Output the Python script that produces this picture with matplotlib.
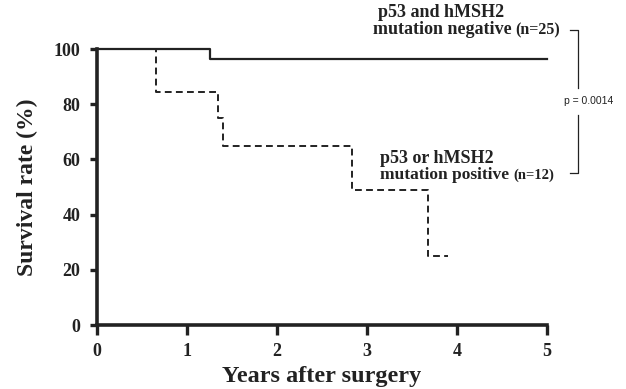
import matplotlib
matplotlib.use('Agg')
import matplotlib.pyplot as plt

# Kaplan-Meier curves
neg_years = [0, 1.26, 5.0]
neg_surv = [100, 96.5, 96.5]
pos_years = [0, 0.65, 1.34, 1.40, 2.83, 3.68, 3.90]
pos_surv = [100, 84.6, 75, 65, 49, 25, 25]

x_ticks = [0, 1, 2, 3, 4, 5]
y_ticks = [0, 20, 40, 60, 80, 100]
p_value = 'p = 0.0014'

serif = 'Liberation Serif'
plt.rcParams['font.family'] = serif

fig = plt.figure(figsize=(6.26, 3.89), dpi=100)
ax = fig.add_axes([97 / 626, 64 / 389, 450 / 626, 276 / 389])

ax.step(pos_years, pos_surv, where='post', color='#222222', lw=1.4,
        dashes=(3.5, 2.2), clip_on=False, zorder=2)
ax.step(neg_years, neg_surv, where='post', color='#222222', lw=1.6,
        clip_on=False, zorder=3)

ax.set_xlim(0, 5)
ax.set_ylim(0, 100)
for s in ['top', 'right']:
    ax.spines[s].set_visible(False)
for s in ['left', 'bottom']:
    ax.spines[s].set_linewidth(2.6)
    ax.spines[s].set_color('#222222')
ax.set_xticks(x_ticks)
ax.set_yticks(y_ticks)
ax.tick_params(axis='x', length=7, width=2.4, color='#222222', pad=6)
ax.tick_params(axis='y', length=5, width=2.4, color='#222222', pad=7)
for lab in ax.get_xticklabels() + ax.get_yticklabels():
    lab.set_fontweight('bold')
    lab.set_fontsize(13)
    lab.set_color('#222222')

ax.set_xlabel('Years after surgery', fontsize=17.5, fontweight='bold',
              color='#222222', labelpad=4)
ax.set_ylabel('Survival rate (%)', fontsize=17, fontweight='bold',
              color='#222222', labelpad=11)

kw = dict(fontweight='bold', color='#222222', clip_on=False, va='center')
ax.text(3.82, 113.4, 'p53 and hMSH2', fontsize=13, ha='center', **kw)
ax.text(4.61, 106.9, 'mutation negative', fontsize=13, ha='right', **kw)
ax.text(5.14, 106.9, '(n=25)', fontsize=11.5, ha='right', **kw)
ax.text(3.14, 60.5, 'p53 or hMSH2', fontsize=13, ha='left', **kw)
ax.text(3.14, 54.3, 'mutation positive', fontsize=12.5, ha='left', **kw)
ax.text(5.08, 54.3, '(n=12)', fontsize=10.5, ha='right', **kw)

# bracket for the log-rank p value
bx, tick = 5.34, 0.09
ax.plot([bx - tick, bx, bx], [106.9, 106.9, 86.0], color='#222222', lw=0.9, clip_on=False)
ax.plot([bx - tick, bx, bx], [55.0, 55.0, 76.0], color='#222222', lw=0.9, clip_on=False)
ax.text(5.46, 81.2, p_value, fontsize=7.5, family='Liberation Sans', ha='center',
        va='center', color='#222222', clip_on=False)

fig.savefig('out.png', dpi=100)
